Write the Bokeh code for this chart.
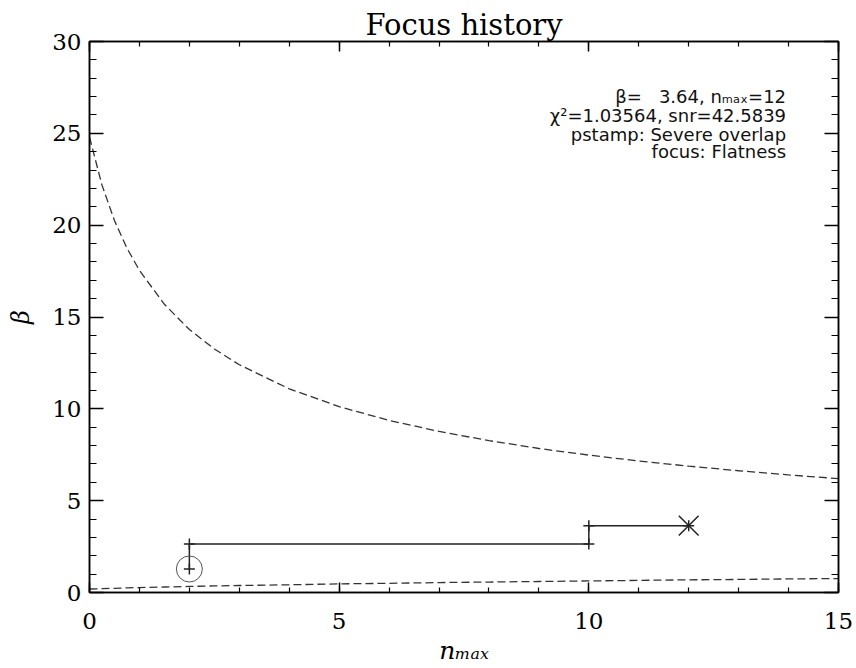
import math
from bokeh.plotting import figure
from bokeh.models import (Range1d, LinearAxis, SingleIntervalTicker, Label,
                          CustomJSTickFormatter, ColumnDataSource)
from bokeh.embed import file_html
from bokeh.resources import INLINE

# ---- data ----
curve_n = [0, 0.25, 0.5, 0.75, 1, 1.5, 2, 2.5, 3, 4, 5, 6, 7, 8, 9, 10, 11, 12, 13, 14, 15]
beta_upper = [24.8, 22.18, 20.25, 18.75, 17.54, 15.69, 14.32, 13.26, 12.40, 11.09, 10.12,
              9.37, 8.77, 8.27, 7.84, 7.48, 7.16, 6.88, 6.63, 6.40, 6.20]
beta_lower = [0.19, 0.21, 0.23, 0.25, 0.27, 0.30, 0.33, 0.36, 0.38, 0.42, 0.47,
              0.50, 0.54, 0.57, 0.60, 0.63, 0.66, 0.69, 0.71, 0.74, 0.76]

history_nmax = [2, 2, 10, 10, 12]
history_beta = [1.28, 2.64, 2.64, 3.64, 3.64]
start_nmax = [2]
start_beta = [1.28]
final_nmax = [12]
final_beta = [3.64]

NB = "\u00a0"
info_lines = ["β=" + NB * 3 + "3.64," + NB + "nₘₐₓ=12",
              "χ²=1.03564," + NB + "snr=42.5839",
              "pstamp:" + NB + "Severe" + NB + "overlap",
              "focus:" + NB + "Flatness"]
info_y = [27.0, 25.95, 24.95, 24.0]

title_text = "Focus history"
ylabel_text = "β"
xlabel_text = "nₘₐₓ"

SERIF = "DejaVu Serif"
SANS = "DejaVu Sans"

p = figure(width=856, height=668, output_backend="svg", toolbar_location=None,
           x_range=Range1d(0, 15), y_range=Range1d(0, 30),
           x_axis_type=None, y_axis_type=None,
           min_border_left=89, min_border_right=18, min_border_top=41, min_border_bottom=76)
p.outline_line_color = "black"
p.outline_line_width = 1.5
p.background_fill_color = "white"
p.border_fill_color = "white"

p.title.text = title_text
p.title.align = "center"
p.title.text_font = SERIF
p.title.text_font_style = "normal"
p.title.text_font_size = "29px"
p.title.text_color = "black"
p.title.standoff = 0

blank = CustomJSTickFormatter(code="return ''")

def make_axis(major_in, minor_in, labels=True):
    ax = LinearAxis(ticker=SingleIntervalTicker(interval=5, num_minor_ticks=5))
    ax.major_tick_in = major_in
    ax.major_tick_out = 0
    ax.minor_tick_in = minor_in
    ax.minor_tick_out = 0
    ax.axis_line_width = 1.5
    ax.major_tick_line_width = 1.5
    ax.minor_tick_line_width = 1.2
    ax.axis_line_color = "black"
    ax.major_tick_line_color = "black"
    ax.minor_tick_line_color = "black"
    ax.major_label_text_font = SERIF
    ax.major_label_text_font_size = "23px"
    ax.major_label_text_color = "black"
    if not labels:
        ax.formatter = blank
        ax.major_label_standoff = 0
    return ax

xb = make_axis(10, 5)
xb.major_label_standoff = 20
xb.axis_label = xlabel_text
xb.axis_label_text_font = SERIF
xb.axis_label_text_font_style = "italic"
xb.axis_label_text_font_size = "25px"
xb.axis_label_standoff = 4
xb.axis_label_text_color = "black"
p.add_layout(xb, "below")

yl = make_axis(14, 7)
yl.major_label_standoff = 8
yl.axis_label = ylabel_text
yl.axis_label_text_font = SERIF
yl.axis_label_text_font_style = "italic"
yl.axis_label_text_font_size = "24px"
yl.axis_label_standoff = 14
yl.axis_label_text_color = "black"
p.add_layout(yl, "left")

xt = make_axis(10, 5, labels=False)
p.add_layout(xt, "above")
yr = make_axis(14, 7, labels=False)
p.add_layout(yr, "right")

# curves
curves = ColumnDataSource(dict(n=curve_n, up=beta_upper, lo=beta_lower))
p.line("n", "up", source=curves, line_color="#333333", line_width=1.3, line_dash="8 4")
p.line("n", "lo", source=curves, line_color="#333333", line_width=1.3, line_dash="8 4")

# focus history path
hist = ColumnDataSource(dict(n=history_nmax, b=history_beta))
p.line("n", "b", source=hist, line_color="#222222", line_width=1.5)
p.scatter("n", "b", source=hist, marker="cross", size=11, line_color="#222222", line_width=1.5)
p.scatter(start_nmax, start_beta, marker="circle", size=26, fill_color=None,
          line_color="#555555", line_width=1.0)
p.scatter(final_nmax, final_beta, marker="x", size=28, line_color="#222222", line_width=1.5)

# info text
for txt, yy in zip(info_lines, info_y):
    p.add_layout(Label(x=13.95, y=yy, text=txt, text_align="right",
                       text_baseline="alphabetic", text_font=SANS,
                       text_font_size="18px", text_color="#111111"))

open("out.html", "w").write(file_html(p, INLINE))
